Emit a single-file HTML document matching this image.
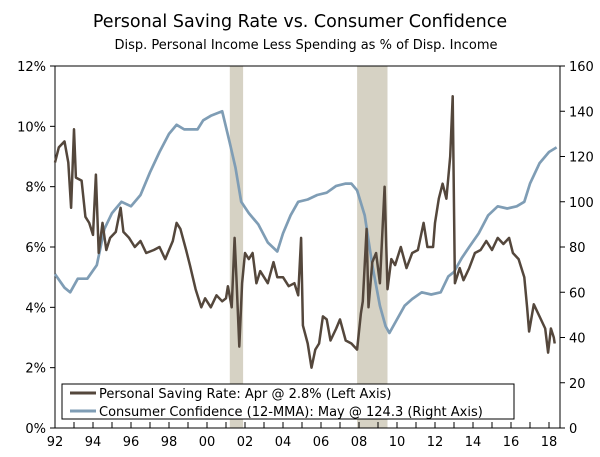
<!DOCTYPE html>
<html><head><meta charset="utf-8"><style>
body{margin:0;background:#fff;width:600px;height:457px;overflow:hidden}
svg{display:block;font-family:"DejaVu Sans","Liberation Sans",sans-serif}
</style></head><body>
<svg id="chart" width="600" height="457">
<text x="300" y="27" text-anchor="middle" font-size="17.5" fill="#000">Personal Saving Rate vs. Consumer Confidence</text>
<text x="306" y="49" text-anchor="middle" font-size="13" fill="#000">Disp. Personal Income Less Spending as % of Disp. Income</text>
<g id="rec"></g>
<g id="axes"></g>
<path id="conf" fill="none" stroke="#7f9db5" stroke-width="2.7" stroke-linejoin="round"/>
<path id="sav" fill="none" stroke="#54473c" stroke-width="2.5" stroke-linejoin="round"/>
<g>
<rect x="62" y="384" width="452" height="35" fill="#fff" stroke="#000" stroke-width="1"/>
<line x1="70" y1="393" x2="96" y2="393" stroke="#54473c" stroke-width="3"/>
<text x="99" y="398" font-size="13">Personal Saving Rate: Apr @ 2.8% (Left Axis)</text>
<line x1="70" y1="411" x2="96" y2="411" stroke="#7f9db5" stroke-width="3"/>
<text x="99" y="416" font-size="13">Consumer Confidence (12-MMA): May @ 124.3 (Right Axis)</text>
</g>
</svg>
<script>
const savYears=[1992.0,1992.2,1992.5,1992.7,1992.85,1993.0,1993.1,1993.4,1993.6,1993.8,1994.0,1994.15,1994.3,1994.5,1994.7,1994.9,1995.2,1995.45,1995.6,1995.9,1996.2,1996.5,1996.8,1997.2,1997.5,1997.8,1998.2,1998.4,1998.6,1998.9,1999.1,1999.4,1999.7,1999.9,2000.2,2000.5,2000.8,2001.0,2001.1,2001.3,2001.45,2001.55,2001.7,2001.85,2002.0,2002.2,2002.4,2002.6,2002.8,2003.2,2003.5,2003.7,2004.0,2004.3,2004.6,2004.8,2004.95,2005.05,2005.3,2005.5,2005.7,2005.9,2006.1,2006.3,2006.5,2006.8,2007.0,2007.3,2007.6,2007.9,2008.1,2008.2,2008.4,2008.5,2008.7,2008.9,2009.1,2009.35,2009.5,2009.7,2009.9,2010.2,2010.5,2010.8,2011.1,2011.4,2011.6,2011.9,2012.0,2012.2,2012.4,2012.6,2012.8,2012.93,2013.05,2013.3,2013.5,2013.8,2014.1,2014.4,2014.7,2015.0,2015.3,2015.6,2015.9,2016.1,2016.4,2016.7,2016.85,2016.95,2017.2,2017.5,2017.8,2017.95,2018.1,2018.25,2018.3];
const savValues=[8.8,9.3,9.5,8.8,7.3,9.9,8.3,8.2,7.0,6.8,6.4,8.4,5.8,6.8,5.9,6.3,6.5,7.3,6.5,6.3,6.0,6.2,5.8,5.9,6.0,5.6,6.2,6.8,6.6,5.9,5.4,4.6,4.0,4.3,4.0,4.4,4.2,4.3,4.7,4.0,6.3,5.0,2.7,4.8,5.8,5.6,5.8,4.8,5.2,4.8,5.5,5.0,5.0,4.7,4.8,4.4,6.3,3.4,2.8,2.0,2.6,2.8,3.7,3.6,2.9,3.3,3.6,2.9,2.8,2.6,3.8,4.2,6.6,4.0,5.5,5.8,4.8,8.0,4.6,5.6,5.4,6.0,5.3,5.8,5.9,6.8,6.0,6.0,6.8,7.6,8.1,7.6,9.0,11.0,4.8,5.3,4.9,5.3,5.8,5.9,6.2,5.9,6.3,6.1,6.3,5.8,5.6,5.0,4.0,3.2,4.1,3.7,3.3,2.5,3.3,3.0,2.8];
const confYears=[1992.0,1992.5,1992.8,1993.2,1993.7,1994.2,1994.6,1995.0,1995.5,1996.0,1996.5,1997.0,1997.5,1998.0,1998.4,1998.8,1999.5,1999.8,2000.2,2000.8,2001.2,2001.5,2001.8,2002.2,2002.7,2003.2,2003.7,2004.0,2004.4,2004.8,2005.3,2005.8,2006.3,2006.8,2007.3,2007.6,2007.9,2008.3,2008.7,2009.1,2009.4,2009.6,2010.0,2010.4,2010.8,2011.3,2011.8,2012.3,2012.7,2013.0,2013.4,2013.8,2014.3,2014.8,2015.3,2015.8,2016.3,2016.7,2017.0,2017.5,2018.0,2018.4];
const confValues=[68,62,60,66,66,72,88,95,100,98,103,113,122,130,134,132,132,136,138,140,126,115,100,95,90,82,78,86,94,100,101,103,104,107,108,108,105,94,72,54,45,42,48,54,57,60,59,60,67,69,75,80,86,94,98,97,98,100,108,117,122,124];
const leftTicks=["0%","2%","4%","6%","8%","10%","12%"];
const rightTicks=["0","20","40","60","80","100","120","140","160"];
const yearLabels=["92","94","96","98","00","02","04","06","08","10","12","14","16","18"];
const recessions=[[2001.2,2001.9],[2007.9,2009.5]];

const X0=55,X1=560,Y0=428,Y1=66,ns="http://www.w3.org/2000/svg";
const x=y=>55+(y-1992)*19;
const yl=v=>Y0-(v/12)*(Y0-Y1);
const yr=v=>Y0-(v/160)*(Y0-Y1);
function mk(t,a,p){const e=document.createElementNS(ns,t);for(const k in a)e.setAttribute(k,a[k]);p.appendChild(e);return e;}
const rec=document.getElementById('rec');
recessions.forEach(r=>{const e=mk('rect',{x:x(r[0]),y:Y1,width:x(r[1])-x(r[0]),height:Y0-Y1,fill:'#d6d2c4'},rec);

});
const ax=document.getElementById('axes');
mk('rect',{x:X0,y:Y1,width:X1-X0,height:Y0-Y1,fill:'none',stroke:'#000','stroke-width':1},ax);
leftTicks.forEach((t,i)=>{const yy=yl(i*2);mk('line',{x1:X0-5,x2:X0,y1:yy,y2:yy,stroke:'#000'},ax);
const e=mk('text',{x:X0-9,y:yy+5,'text-anchor':'end','font-size':13},ax);e.textContent=t;

});
rightTicks.forEach((t,i)=>{const yy=yr(i*20);mk('line',{x1:X1,x2:X1+5,y1:yy,y2:yy,stroke:'#000'},ax);
const e=mk('text',{x:X1+9,y:yy+5,'font-size':13},ax);e.textContent=t;

});
for(let yy=1992;yy<=2018;yy++){mk('line',{x1:x(yy),x2:x(yy),y1:Y0,y2:Y0-6,stroke:'#000'},ax);}
yearLabels.forEach((t,i)=>{const e=mk('text',{x:x(1992+i*2),y:446,'text-anchor':'middle','font-size':13},ax);e.textContent=t;

});
document.getElementById('sav').setAttribute('d',savYears.map((t,i)=>(i?'L':'M')+x(t).toFixed(1)+' '+yl(savValues[i]).toFixed(1)).join(''));
document.getElementById('conf').setAttribute('d',confYears.map((t,i)=>(i?'L':'M')+x(t).toFixed(1)+' '+yr(confValues[i]).toFixed(1)).join(''));
</script>
</body></html>
